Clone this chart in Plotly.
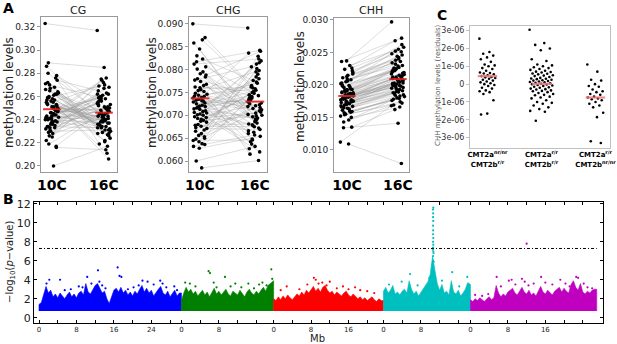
import plotly.graph_objects as go

W, H = 617, 344
FONT = "DejaVu Sans"

# ---------------- Panel A data (methylation levels, paired accessions) ----------------
A_CATS = ["10C", "16C"]

CG_10C = [
    0.323, 0.200, 0.289, 0.262, 0.241, 0.255, 0.233, 0.270, 0.247, 0.228,
    0.259, 0.244, 0.236, 0.266, 0.251, 0.219, 0.274, 0.239, 0.257, 0.248,
    0.231, 0.263, 0.245, 0.280, 0.253, 0.237, 0.242, 0.268, 0.226, 0.250,
    0.258, 0.234, 0.276, 0.246, 0.240, 0.261, 0.229, 0.252, 0.243, 0.286,
    0.235, 0.265, 0.249, 0.238, 0.272, 0.217, 0.256, 0.232, 0.244, 0.260,
    0.247, 0.225, 0.254, 0.239, 0.267, 0.242, 0.250, 0.234, 0.278, 0.246,
    0.222, 0.257, 0.241, 0.264, 0.236, 0.253, 0.248, 0.230, 0.271, 0.245,
    0.259, 0.238, 0.251, 0.243, 0.262, 0.233, 0.249, 0.255, 0.240, 0.216]
CG_16C = [
    0.317, 0.217, 0.285, 0.248, 0.262, 0.237, 0.251, 0.259, 0.228, 0.243,
    0.270, 0.233, 0.255, 0.241, 0.222, 0.246, 0.265, 0.231, 0.239, 0.274,
    0.252, 0.226, 0.258, 0.244, 0.236, 0.268, 0.240, 0.229, 0.256, 0.247,
    0.234, 0.261, 0.219, 0.250, 0.276, 0.238, 0.245, 0.232, 0.263, 0.242,
    0.257, 0.224, 0.249, 0.272, 0.235, 0.253, 0.211, 0.241, 0.260, 0.230,
    0.246, 0.267, 0.238, 0.254, 0.227, 0.244, 0.258, 0.233, 0.251, 0.240,
    0.275, 0.236, 0.248, 0.221, 0.256, 0.243, 0.262, 0.231, 0.239, 0.253,
    0.206, 0.245, 0.234, 0.259, 0.228, 0.250, 0.242, 0.269, 0.237, 0.214]
CG_MEAN = [0.249, 0.246]
CG_TICKS = [0.20, 0.22, 0.24, 0.26, 0.28, 0.30, 0.32]
CG_TICKTEXT = ["0.20", "0.22", "0.24", "0.26", "0.28", "0.30", "0.32"]

CHG_10C = [
    0.0900, 0.0585, 0.0600, 0.0870, 0.0845, 0.0812, 0.0795, 0.0780, 0.0768, 0.0756,
    0.0748, 0.0741, 0.0735, 0.0729, 0.0722, 0.0716, 0.0710, 0.0703, 0.0697, 0.0689,
    0.0680, 0.0671, 0.0660, 0.0648, 0.0636, 0.0628, 0.0858, 0.0823, 0.0801, 0.0788,
    0.0774, 0.0762, 0.0752, 0.0744, 0.0738, 0.0732, 0.0725, 0.0719, 0.0713, 0.0706,
    0.0700, 0.0693, 0.0685, 0.0676, 0.0665, 0.0653, 0.0642, 0.0632, 0.0865, 0.0830,
    0.0806, 0.0791, 0.0777, 0.0765, 0.0754, 0.0746, 0.0739, 0.0733, 0.0727, 0.0720,
    0.0714, 0.0708, 0.0701, 0.0695, 0.0687, 0.0678, 0.0668, 0.0656, 0.0645, 0.0638,
    0.0817, 0.0784, 0.0760, 0.0742, 0.0731, 0.0718, 0.0705, 0.0691, 0.0673, 0.0650]
CHG_16C = [
    0.0891, 0.0601, 0.0632, 0.0765, 0.0702, 0.0823, 0.0688, 0.0741, 0.0660, 0.0798,
    0.0721, 0.0648, 0.0836, 0.0710, 0.0755, 0.0679, 0.0731, 0.0620, 0.0784, 0.0697,
    0.0745, 0.0669, 0.0812, 0.0715, 0.0738, 0.0654, 0.0691, 0.0776, 0.0725, 0.0840,
    0.0683, 0.0752, 0.0615, 0.0707, 0.0770, 0.0663, 0.0733, 0.0819, 0.0694, 0.0748,
    0.0642, 0.0727, 0.0790, 0.0675, 0.0736, 0.0712, 0.0829, 0.0657, 0.0762, 0.0700,
    0.0743, 0.0686, 0.0806, 0.0719, 0.0672, 0.0758, 0.0637, 0.0729, 0.0780, 0.0692,
    0.0738, 0.0666, 0.0815, 0.0705, 0.0750, 0.0681, 0.0723, 0.0795, 0.0646, 0.0735,
    0.0842, 0.0699, 0.0760, 0.0627, 0.0717, 0.0773, 0.0677, 0.0744, 0.0709, 0.0802]
CHG_MEAN = [0.0737, 0.0730]
CHG_TICKS = [0.060, 0.065, 0.070, 0.075, 0.080, 0.085, 0.090]
CHG_TICKTEXT = ["0.060", "0.065", "0.070", "0.075", "0.080", "0.085", "0.090"]

CHH_10C = [
    0.0112, 0.0109, 0.0134, 0.0135, 0.0237, 0.0236, 0.0230, 0.0224, 0.0219, 0.0215,
    0.0211, 0.0208, 0.0205, 0.0202, 0.0199, 0.0196, 0.0193, 0.0191, 0.0189, 0.0187,
    0.0185, 0.0183, 0.0181, 0.0179, 0.0177, 0.0175, 0.0173, 0.0171, 0.0169, 0.0167,
    0.0164, 0.0161, 0.0158, 0.0155, 0.0152, 0.0146, 0.0143, 0.0226, 0.0213, 0.0203,
    0.0197, 0.0192, 0.0188, 0.0184, 0.0180, 0.0176, 0.0172, 0.0168, 0.0163, 0.0157,
    0.0222, 0.0209, 0.0200, 0.0194, 0.0190, 0.0186, 0.0182, 0.0178, 0.0174, 0.0170,
    0.0166, 0.0160, 0.0154, 0.0217, 0.0206, 0.0198, 0.0185, 0.0181, 0.0177, 0.0172,
    0.0165, 0.0159, 0.0193, 0.0188, 0.0183, 0.0179, 0.0175, 0.0186, 0.0180, 0.0150]
CHH_16C = [
    0.0168, 0.0079, 0.0141, 0.0162, 0.0297, 0.0272, 0.0255, 0.0268, 0.0248, 0.0262,
    0.0240, 0.0252, 0.0234, 0.0246, 0.0227, 0.0238, 0.0221, 0.0230, 0.0215, 0.0224,
    0.0210, 0.0218, 0.0204, 0.0212, 0.0199, 0.0207, 0.0193, 0.0201, 0.0188, 0.0196,
    0.0183, 0.0190, 0.0178, 0.0185, 0.0174, 0.0180, 0.0169, 0.0258, 0.0236, 0.0244,
    0.0226, 0.0219, 0.0213, 0.0208, 0.0203, 0.0216, 0.0198, 0.0192, 0.0187, 0.0182,
    0.0251, 0.0229, 0.0222, 0.0217, 0.0211, 0.0205, 0.0200, 0.0195, 0.0209, 0.0189,
    0.0184, 0.0176, 0.0172, 0.0242, 0.0232, 0.0220, 0.0214, 0.0206, 0.0197, 0.0202,
    0.0191, 0.0179, 0.0225, 0.0212, 0.0206, 0.0199, 0.0194, 0.0223, 0.0203, 0.0166]
CHH_MEAN = [0.0183, 0.0209]
CHH_TICKS = [0.010, 0.015, 0.020, 0.025, 0.030]
CHH_TICKTEXT = ["0.010", "0.015", "0.020", "0.025", "0.030"]

# ---------------- Panel C data (CHH residuals, units of 1e-6) ----------------
C_CATS = ["<b>CMT2a<sup>nr/nr</sup></b><br><b>CMT2b<sup>r/r</sup></b>",
          "<b>CMT2a<sup>r/r</sup></b><br><b>CMT2b<sup>r/r</sup></b>",
          "<b>CMT2a<sup>r/r</sup></b><br><b>CMT2b<sup>nr/nr</sup></b>"]
C_G1 = [2.55, 1.8, 1.7, 1.6, 1.5, 1.4, 1.25, 1.1, 1.05, 1.0, 0.9, 0.85, 0.75, 0.65,
        0.62, 0.6, 0.55, 0.5, 0.45, 0.4, 0.38, 0.35, 0.3, 0.25, 0.2, 0.15, 0.1, 0.05,
        0.0, -0.05, -0.1, -0.2, -0.25, -0.35, -0.4, -0.45, -0.55, -0.9, -1.65, -1.7]
C_G2 = [3.05, 2.3, 2.2, 2.0, 1.9, 1.4, 1.3, 1.1, 1.05, 1.0, 0.95, 0.9, 0.85, 0.8, 0.75,
        0.7, 0.68, 0.65, 0.6, 0.58, 0.55, 0.5, 0.48, 0.45, 0.4, 0.35, 0.32, 0.3, 0.28,
        0.25, 0.22, 0.2, 0.18, 0.15, 0.12, 0.1, 0.08, 0.05, 0.02, 0.0, -0.02, -0.05,
        -0.08, -0.1, -0.15, -0.18, -0.2, -0.25, -0.28, -0.3, -0.35, -0.38, -0.4, -0.45,
        -0.5, -0.55, -0.6, -0.62, -0.7, -0.75, -0.8, -0.9, -1.0, -1.05, -1.1, -1.2,
        -1.3, -1.4, -1.5, -1.55, -2.05]
C_G3 = [1.1, 0.7, 0.25, 0.2, 0.0, -0.1, -0.15, -0.3, -0.4, -0.45, -0.55, -0.6, -0.7,
        -0.75, -0.8, -0.85, -0.9, -1.0, -1.1, -1.2, -1.3, -1.6, -1.85, -3.2, -3.3]
C_MEANS = [0.45, 0.02, -0.75]
C_TICKS = [-3, -2, -1, 0, 1, 2, 3]
C_TICKTEXT = ["-3e-06", "-2e-06", "-1e-06", "0", "1e-06", "2e-06", "3e-06"]

# ---------------- Panel B data (GWAS, -log10 p) ----------------
CHR_LEN = [30.43, 19.70, 23.46, 18.59, 26.98]
CHR_COLORS = ["#0000ff", "#008000", "#ff0000", "#00bfbf", "#bf00bf"]
BASELINE = 0.7
THRESHOLD = 7.3
ENV_STEP = 0.5
# upper edge of the dense point cloud, every 0.5 Mb
ENV_CHR1 = [1.4, 1.6, 2.4, 3.3, 2.6, 2.9, 2.2, 2.5, 2.1, 2.6, 2.3, 2.0, 2.4, 2.7, 2.2,
            2.5, 2.1, 2.6, 2.8, 2.4, 3.6, 2.7, 2.5, 3.0, 3.4, 3.6, 3.0, 2.6, 2.8, 2.0,
            1.5, 2.2, 2.9, 3.1, 2.7, 3.2, 2.6, 2.9, 2.4, 2.7, 2.3, 2.8, 2.5, 3.0, 3.4,
            2.7, 3.1, 2.6, 2.9, 2.3, 2.7, 3.0, 3.3, 2.6, 2.4, 2.8, 2.2, 2.5, 2.9, 2.3, 2.6]
ENV_CHR2 = [1.8, 2.6, 3.2, 2.7, 3.0, 2.5, 2.8, 2.3, 2.6, 2.9, 2.4, 2.7, 2.2, 2.6, 3.1,
            2.5, 2.8, 2.4, 2.7, 3.0, 2.5, 2.3, 2.8, 2.6, 2.4, 2.9, 2.5, 2.2, 2.7, 3.0,
            2.6, 2.4, 2.8, 2.5, 2.9, 3.2, 2.8, 3.4, 3.6, 3.9]
ENV_CHR3 = [2.0, 1.8, 2.2, 1.9, 2.3, 2.0, 2.4, 2.1, 1.9, 2.2, 2.5, 2.3, 2.7, 2.4, 2.9,
            2.6, 3.0, 3.3, 2.8, 3.1, 2.7, 3.2, 3.4, 2.9, 2.6, 2.8, 2.4, 2.7, 2.5, 2.3,
            2.6, 2.8, 2.4, 2.2, 2.5, 2.3, 2.0, 2.2, 1.9, 2.1, 1.8, 2.0, 2.2, 1.9, 1.7,
            2.0, 1.8]
ENV_CHR4 = [2.8, 3.2, 2.6, 2.9, 3.4, 2.5, 2.7, 2.4, 2.8, 3.0, 2.6, 3.9, 3.0, 2.5, 2.8,
            2.3, 2.7, 3.0, 3.4, 3.8, 4.6, 6.5, 5.0, 3.6, 2.9, 3.5, 2.6, 2.8, 2.4, 3.9,
            2.7, 2.5, 2.9, 2.3, 2.6, 3.0, 3.7, 3.5]
ENV_CHR5 = [1.9, 1.7, 2.0, 1.8, 2.1, 1.9, 1.7, 2.0, 2.2, 1.9, 2.1, 3.4, 2.6, 2.2, 2.5,
            2.3, 2.7, 2.9, 3.1, 2.6, 2.4, 2.8, 3.2, 2.7, 2.5, 2.9, 2.4, 2.6, 2.3, 2.8,
            3.3, 2.7, 2.5, 2.9, 2.6, 2.4, 2.8, 3.0, 3.2, 2.7, 3.1, 2.8, 2.6, 3.5, 3.9,
            3.2, 2.9, 3.6, 2.7, 2.5, 2.8, 2.6, 2.9, 3.0]
# isolated SNPs above the dense cloud: (position within chromosome in Mb, -log10 p)
DOT_POS_CHR1 = [1.6, 2.2, 4.5, 5.5, 6.8, 8.5, 9.3, 10.3, 11.2, 12.6, 12.9, 13.5, 14.2,
                16.8, 17.2, 17.6, 19.0, 20.2, 21.3, 22.1, 23.2, 24.5, 25.9, 26.4, 27.2, 28.9, 29.5]
DOT_VAL_CHR1 = [3.6, 4.0, 4.0, 2.9, 3.0, 3.3, 3.2, 4.3, 3.6, 5.0, 3.8, 3.4, 3.1,
                5.3, 4.4, 4.3, 3.0, 3.2, 3.4, 3.9, 3.8, 3.5, 3.9, 3.6, 3.2, 3.3, 2.9]
DOT_POS_CHR2 = [0.8, 1.8, 3.0, 5.8, 6.1, 6.9, 7.5, 9.3, 10.5, 11.5, 12.8, 14.3, 15.5,
                16.6, 17.3, 18.2, 19.2, 19.4]
DOT_VAL_CHR2 = [3.7, 3.6, 3.3, 4.9, 4.7, 3.7, 3.2, 4.3, 3.3, 3.6, 3.2, 3.6, 3.1,
                3.5, 3.7, 3.4, 5.1, 4.1]
DOT_POS_CHR3 = [1.5, 2.8, 5.5, 7.2, 8.6, 9.0, 9.6, 10.4, 11.3, 12.0, 13.5, 14.8, 16.0,
                17.4, 18.5, 20.0, 21.5]
DOT_VAL_CHR3 = [2.9, 3.3, 3.0, 3.5, 4.2, 4.0, 3.6, 3.7, 3.4, 3.8, 3.1, 3.3, 3.0,
                3.2, 2.9, 2.8, 2.6]
DOT_POS_CHR4 = [10.6, 10.6, 10.65, 10.6, 10.65, 10.6, 10.65, 10.6, 10.62, 10.6, 10.65,
                10.6, 10.62, 10.6, 10.65, 10.55, 10.7, 10.5, 10.75, 10.4,
                5.7, 3.9, 14.7, 17.9, 12.5, 9.8, 1.2, 7.3, 16.2]
DOT_VAL_CHR4 = [6.0, 6.5, 7.0, 7.4, 7.7, 8.0, 8.4, 8.8, 9.2, 9.7, 10.2,
                10.6, 11.0, 11.4, 11.6, 7.2, 6.8, 5.6, 5.9, 5.2,
                4.6, 3.8, 4.8, 4.3, 3.9, 4.2, 3.5, 3.4, 3.3]
DOT_POS_CHR5 = [1.0, 2.5, 3.8, 5.6, 6.5, 8.2, 8.8, 9.6, 11.0, 11.6, 12.0, 12.4, 13.5,
                15.1, 16.0, 17.5, 19.2, 20.3, 21.2, 22.6, 23.0, 24.2, 25.0, 26.0]
DOT_VAL_CHR5 = [2.4, 2.3, 2.5, 4.3, 3.3, 3.9, 4.0, 3.5, 4.1, 3.8, 7.8, 3.4, 3.6,
                4.3, 3.7, 3.5, 4.0, 3.6, 3.3, 4.3, 4.2, 3.6, 3.2, 3.1]
B_TICK_STEP = 4
B_TICK_LABELS = [[0, 8, 16, 24], [0, 8], [0, 8, 16], [0, 8], [0, 8, 16]]
B_YTICKS = [0, 2, 4, 6, 8, 10, 12]

ENVS = [ENV_CHR1, ENV_CHR2, ENV_CHR3, ENV_CHR4, ENV_CHR5]
DOTS = [(DOT_POS_CHR1, DOT_VAL_CHR1), (DOT_POS_CHR2, DOT_VAL_CHR2),
        (DOT_POS_CHR3, DOT_VAL_CHR3), (DOT_POS_CHR4, DOT_VAL_CHR4),
        (DOT_POS_CHR5, DOT_VAL_CHR5)]


def dom_x(a, b):
    return [a / W, b / W]


def dom_y(top, bot):
    return [1 - bot / H, 1 - top / H]


def jit(i, k, amp):
    return ((i * k) % 1.0 - 0.5) * 2 * amp


def axn(k, letter):
    return letter if k == 1 else f"{letter}{k}"


fig = go.Figure()

# ---------------- Panel A traces ----------------
A_PANELS = [(CG_10C, CG_16C, CG_MEAN, 1), (CHG_10C, CHG_16C, CHG_MEAN, 2),
            (CHH_10C, CHH_16C, CHH_MEAN, 3)]
for v10, v16, mean, k in A_PANELS:
    xa, ya = axn(k, "x"), axn(k, "y")
    x10 = [0 + jit(i, 0.618034, 0.13) for i in range(len(v10))]
    x16 = [1 + jit(i, 0.754878, 0.13) for i in range(len(v16))]
    lx, ly = [], []
    for a, b, c, d in zip(x10, x16, v10, v16):
        lx += [a, b, None]
        ly += [c, d, None]
    fig.add_trace(go.Scatter(x=lx, y=ly, mode="lines", xaxis=xa, yaxis=ya,
                             line=dict(color="rgba(150,150,150,0.55)", width=0.6),
                             hoverinfo="skip", showlegend=False))
    fig.add_trace(go.Scatter(x=x10 + x16, y=v10 + v16, mode="markers", xaxis=xa, yaxis=ya,
                             marker=dict(color="black", size=3.6), showlegend=False))
    fig.add_trace(go.Scatter(x=[-0.17, 0.17, None, 0.83, 1.17],
                             y=[mean[0], mean[0], None, mean[1], mean[1]],
                             mode="lines", xaxis=xa, yaxis=ya,
                             line=dict(color="rgba(225,30,30,0.9)", width=2),
                             showlegend=False))

# ---------------- Panel C traces ----------------
for ci, grp in enumerate([C_G1, C_G2, C_G3]):
    amp = 0.22 if ci == 1 else 0.15
    xs = [ci + jit(i, 0.618034, amp) for i in range(len(grp))]
    fig.add_trace(go.Scatter(x=xs, y=grp, mode="markers", xaxis="x4", yaxis="y4",
                             marker=dict(color="black", size=2.6), showlegend=False))
    fig.add_trace(go.Scatter(x=[ci - 0.18, ci + 0.18], y=[C_MEANS[ci], C_MEANS[ci]],
                             mode="lines", xaxis="x4", yaxis="y4",
                             line=dict(color="rgba(240,120,120,0.85)", width=2.2),
                             showlegend=False))

# ---------------- Panel B traces ----------------
offset = 0.0
tickvals, ticktext = [], []
for ci, L in enumerate(CHR_LEN):
    env = ENVS[ci]
    col = CHR_COLORS[ci]
    ex = [offset] + [offset + ENV_STEP * i for i in range(len(env))] + [offset + L, offset + L]
    ey = [BASELINE] + env + [env[-1], BASELINE]
    fig.add_trace(go.Scatter(x=ex, y=ey, mode="lines", fill="toself", fillcolor=col,
                             line=dict(color=col, width=0.6), xaxis="x5", yaxis="y5",
                             hoverinfo="skip", showlegend=False))
    dp, dv = DOTS[ci]
    fig.add_trace(go.Scatter(x=[offset + p for p in dp], y=dv, mode="markers",
                             marker=dict(color=col, size=2.2), xaxis="x5", yaxis="y5",
                             showlegend=False))
    t = 0
    while t < L:
        tickvals.append(offset + t)
        ticktext.append(str(t) if t in B_TICK_LABELS[ci] else "")
        t += B_TICK_STEP
    offset += L
TOTAL = offset

fig.add_shape(type="line", xref="x5", yref="y5", x0=0, x1=TOTAL, y0=THRESHOLD, y1=THRESHOLD,
              line=dict(color="black", width=1, dash="3px,2px,1px,2px"))

# ---------------- Layout ----------------
layout = dict(width=W, height=H, autosize=False, margin=dict(l=0, r=0, t=0, b=0, pad=0),
              paper_bgcolor="white", plot_bgcolor="white", showlegend=False,
              font=dict(family=FONT, color="#222"))

A_AX = [
    (1, (41, 117), (17, 172), [-0.21, 1.25], [0.1948, 0.3286], CG_TICKS, CG_TICKTEXT),
    (2, (189, 267), (17, 172), [-0.20, 1.22], [0.0576, 0.0915], CHG_TICKS, CHG_TICKTEXT),
    (3, (334, 409), (18, 172), [-0.255, 1.216], [0.0066, 0.0303], CHH_TICKS, CHH_TICKTEXT),
]
for k, xd, yd, xr, yr, tv, tt in A_AX:
    xs = "xaxis" if k == 1 else f"xaxis{k}"
    ys = "yaxis" if k == 1 else f"yaxis{k}"
    layout[xs] = dict(domain=dom_x(*xd), range=xr, anchor=axn(k, "y"), automargin=False,
                      tickvals=[0, 1], ticktext=A_CATS, ticks="",
                      tickfont=dict(family=FONT, size=14, color="black", weight="bold"),
                      showline=True, mirror=True, linecolor="#9a9a9a", linewidth=1,
                      showgrid=False, zeroline=False)
    layout[ys] = dict(domain=dom_y(*yd), range=yr, anchor=axn(k, "x"), automargin=False,
                      tickvals=tv, ticktext=tt, ticks="outside", ticklen=3,
                      tickcolor="#9a9a9a", tickfont=dict(family=FONT, size=9, color="#222"),
                      showline=True, mirror=True, linecolor="#9a9a9a", linewidth=1,
                      showgrid=False, zeroline=False)

layout["xaxis4"] = dict(domain=dom_x(470, 610), range=[-0.324, 2.27], anchor="y4",
                        automargin=False,
                        tickvals=[0, 1, 2], ticktext=C_CATS, ticks="",
                        tickfont=dict(family=FONT, size=7, color="black"),
                        showline=True, mirror=True, linecolor="#c0c0c0", linewidth=1,
                        showgrid=False, zeroline=False)
layout["yaxis4"] = dict(domain=dom_y(26, 148), range=[-3.58, 3.26], anchor="x4",
                        automargin=False,
                        tickvals=C_TICKS, ticktext=C_TICKTEXT, ticks="outside", ticklen=3,
                        tickcolor="#c0c0c0", tickfont=dict(family=FONT, size=8, color="#333"),
                        showline=True, mirror=True, linecolor="#c0c0c0", linewidth=1,
                        showgrid=False, zeroline=False)

layout["xaxis5"] = dict(domain=dom_x(34, 603), range=[-1.07, 120.5], anchor="y5",
                        automargin=False,
                        tickvals=tickvals, ticktext=ticktext, ticks="inside", ticklen=3,
                        tickcolor="black", tickfont=dict(family=FONT, size=7, color="#222"),
                        showline=True, mirror="ticks", linecolor="black", linewidth=1,
                        showgrid=False, zeroline=False)
layout["yaxis5"] = dict(domain=dom_y(202, 323), range=[-0.56, 12.2], anchor="x5",
                        automargin=False,
                        tickvals=B_YTICKS, ticks="inside", ticklen=3, tickcolor="black",
                        tickfont=dict(family=FONT, size=11, color="#222"),
                        showline=True, mirror="ticks", linecolor="black", linewidth=1,
                        showgrid=False, zeroline=False)


def ann(text, px, py, size, angle=0, bold=False, color="#222", xanchor="center"):
    return dict(text=text, x=px / W, y=1 - py / H, xref="paper", yref="paper",
                showarrow=False, textangle=angle, xanchor=xanchor, yanchor="middle",
                font=dict(family=FONT, size=size, color=color,
                          weight="bold" if bold else "normal"))


layout["annotations"] = [
    ann("A", 1, 8, 14, bold=True, color="black", xanchor="left"),
    ann("B", 1, 199, 14, bold=True, color="black", xanchor="left"),
    ann("C", 435, 15, 14, bold=True, color="black", xanchor="left"),
    ann("CG", 78, 10, 11),
    ann("CHG", 228, 10, 11),
    ann("CHH", 371, 10, 11),
    ann("methylation levels", 9, 93, 12, angle=-90),
    ann("methylation levels", 152, 93, 12, angle=-90),
    ann("methylation levels", 300, 87, 12, angle=-90),
    ann("CHH methylation levels (residuals)", 438, 85, 7, angle=-90, color="#555"),
    ann("\u2212log<sub>10</sub>(<i>p</i>\u2212value)", 10, 262, 10, angle=-90),
    ann("Mb", 318, 338, 10),
]

fig.update_layout(**layout)
fig.write_html("out.html", config={"displayModeBar": False},
               post_script="document.body.style.margin='0';document.body.style.padding='0';")
